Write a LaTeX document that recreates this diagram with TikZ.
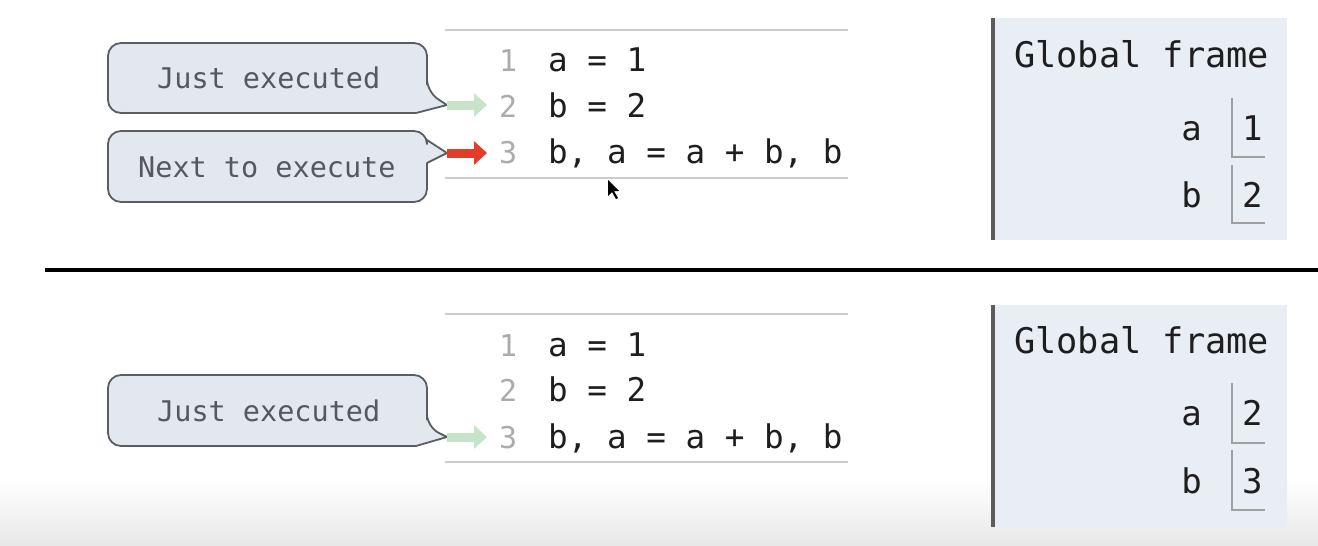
\documentclass[tikz,border=0pt]{standalone}
\usepackage{fontspec}
\setmonofont{DejaVu Sans Mono}
\usetikzlibrary{arrows.meta}
\definecolor{callfill}{HTML}{E3E7EE}
\definecolor{calldraw}{HTML}{5A5E64}
\definecolor{calltxt}{HTML}{55585C}
\definecolor{codetxt}{HTML}{1E1E1E}
\definecolor{numtxt}{HTML}{ABABAB}
\definecolor{rulegray}{HTML}{CCCCCC}
\definecolor{framefill}{HTML}{E9EDF4}
\definecolor{frameedge}{HTML}{5C5C5C}
\definecolor{boxline}{HTML}{A0A0A0}
\definecolor{justgreen}{HTML}{C6E4C9}
\definecolor{nextred}{HTML}{E23D28}
\tikzset{
  callout/.style={fill=callfill,draw=calldraw,line width=1.8pt,line join=round},
  calltext/.style={anchor=base west,inner sep=0pt,text=calltxt,font=\ttfamily\fontsize{28.5}{32}\selectfont},
  codetext/.style={anchor=base west,inner sep=0pt,text=codetxt,font=\ttfamily\fontsize{32.6}{36}\selectfont},
  numtext/.style={anchor=base west,inner sep=0pt,text=numtxt,font=\ttfamily\fontsize{30}{36}\selectfont},
  frametitle/.style={anchor=base west,inner sep=0pt,text=codetxt,font=\ttfamily\fontsize{35.3}{40}\selectfont},
  varname/.style={anchor=base east,inner sep=0pt,text=codetxt,font=\ttfamily\fontsize{34}{40}\selectfont},
  varval/.style={anchor=base west,inner sep=0pt,text=codetxt,font=\ttfamily\fontsize{34}{40}\selectfont},
  coderule/.style={draw=rulegray,line width=2pt},
  framebox/.style={fill=framefill},
  frameleft/.style={draw=frameedge,line width=4pt},
  valbox/.style={draw=boxline,line width=1.5pt},
  greenarr/.style={draw=justgreen,line width=9pt,shorten >=12pt,-{Triangle[length=13pt,width=23pt]}},
  redarr/.style={draw=nextred,line width=9pt,shorten >=12pt,-{Triangle[length=13pt,width=23pt]}},
}
\begin{document}
\begin{tikzpicture}[x=1pt,y=-1pt]
\useasboundingbox (0,0) rectangle (1318,546);
\fill[white] (0,0) rectangle (1318,546);
\shade[top color=white,bottom color=black!9] (0,478) rectangle (1318,546);

% ---------- TOP STATE ----------
\draw[coderule] (445,30) -- (848,30);
\draw[coderule] (445,178) -- (848,178);
\node[numtext] (tn1) at (499,71) {1};
\node[numtext] (tn2) at (499,117) {2};
\node[numtext] (tn3) at (499,163) {3};
\node[codetext] (tc1) at (548,71) {a = 1};
\node[codetext] (tc2) at (548,117) {b = 2};
\node[codetext] (tc3) at (548,163) {b, a = a + b, b};

\draw[callout] (427,92) -- (447,105) -- (416,113)
  [rounded corners=13] -- (108,113) -- (108,43) -- (427,43) -- (427,92) -- cycle;
\coordinate (tp1) at (447,105);
\node[calltext] (tjust) at (157,88) {Just executed};
\draw[callout] (447,153) -- (427,163)
  [rounded corners=13] -- (427,202) -- (108,202) -- (108,131) -- (427,131) [sharp corners] -- (427,140) -- cycle;
\coordinate (tp2) at (447,153);
\node[calltext] (tnext) at (138,177) {Next to execute};
\draw[greenarr] (tp1) -- (tn2.west |- tp1);
\draw[redarr] (tp2) -- (tn3.west |- tp2);

% cursor
\fill[black] (608,180) -- (608,196) -- (612,192) -- (616,199) -- (618,198) -- (614,191) -- (619,191) -- cycle;

\fill[framebox] (993,18) rectangle (1287,240);
\draw[frameleft] (993,18) -- (993,240);
\node[frametitle] (tgf) at (1014,67) {Global frame};
\node[varname] (tva) at (1202,140) {a};
\node[varname] (tvb) at (1202,207) {b};
\draw[valbox] (1232,98) -- (1232,157) -- (1265,157);
\draw[valbox] (1232,165) -- (1232,223) -- (1265,223);
\node[varval] (tval) at (1242,140) {1};
\node[varval] (tvbl) at (1242,207) {2};

% ---------- DIVIDER ----------
\draw[black,line width=4pt] (45,270) -- (1318,270);

% ---------- BOTTOM STATE ----------
\draw[coderule] (445,314) -- (848,314);
\draw[coderule] (445,462) -- (848,462);
\node[numtext] (bn1) at (499,356) {1};
\node[numtext] (bn2) at (499,401) {2};
\node[numtext] (bn3) at (499,448) {3};
\node[codetext] (bc1) at (548,356) {a = 1};
\node[codetext] (bc2) at (548,401) {b = 2};
\node[codetext] (bc3) at (548,448) {b, a = a + b, b};

\draw[callout] (427,427) -- (447,437) -- (416,446)
  [rounded corners=13] -- (108,446) -- (108,375) -- (427,375) -- (427,427) -- cycle;
\coordinate (bp1) at (447,437);
\node[calltext] (bjust) at (157,421) {Just executed};
\draw[greenarr] (bp1) -- (bn3.west |- bp1);

\fill[framebox] (993,305) rectangle (1287,527);
\draw[frameleft] (993,305) -- (993,527);
\node[frametitle] (bgf) at (1014,353) {Global frame};
\node[varname] (bva) at (1202,425) {a};
\node[varname] (bvb) at (1202,493) {b};
\draw[valbox] (1232,383) -- (1232,443) -- (1265,443);
\draw[valbox] (1232,450) -- (1232,510) -- (1265,510);
\node[varval] (bval) at (1242,425) {2};
\node[varval] (bvbl) at (1242,493) {3};
\end{tikzpicture}
\end{document}
